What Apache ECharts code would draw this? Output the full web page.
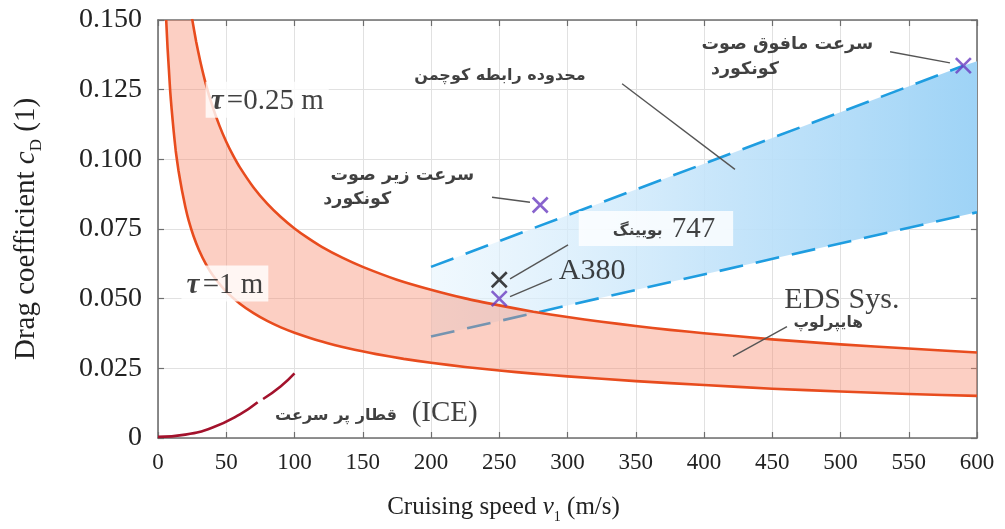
<!DOCTYPE html>
<html><head><meta charset="utf-8">
<script src="https://cdn.jsdelivr.net/npm/echarts@6/dist/echarts.min.js"></script>
<style>html,body{margin:0;padding:0;background:#fff}#c{width:1005px;height:529px}</style>
</head><body><div id="c"></div>
<script>
// ---------- data ----------
const xTicks = [0,50,100,150,200,250,300,350,400,450,500,550,600];
const yTickLabels = ['0','0.025','0.050','0.075','0.100','0.125','0.150'];

// Hyperloop (EDS) band boundaries
const hyperTau025 = [[25,0.1504],[28,0.1421],[31,0.1351],[35,0.1271],[40,0.1189],[45,0.1121],[50,0.1063],[55,0.1014],[60,0.0971],[70,0.0899],[80,0.0841],[90,0.0793],[100,0.0752],[110,0.0717],[120,0.0686],[135,0.0647],[150,0.0614],[175,0.0568],[200,0.0532],[225,0.0501],[250,0.0476],[275,0.0453],[300,0.0434],[325,0.0417],[350,0.0402],[375,0.0388],[400,0.0376],[450,0.0354],[500,0.0336],[550,0.0321],[600,0.0307]];
const hyperTau1 = [[6,0.150],[7,0.140],[8,0.132],[9,0.124],[10,0.118],[11.5,0.110],[13,0.103],[15,0.096],[17.5,0.089],[20,0.083],[22.5,0.078],[26,0.0725],[30,0.0675],[35,0.0625],[40,0.0585],[50,0.0525],[60,0.0482],[70,0.0448],[80,0.0420],[90,0.0397],[100,0.0378],[120,0.0346],[140,0.0321],[160,0.0301],[180,0.0284],[200,0.0270],[225,0.0255],[250,0.0242],[275,0.0231],[300,0.0221],[350,0.0204],[400,0.0190],[450,0.0177],[500,0.0167],[550,0.0158],[600,0.0151]];

// High-speed train (ICE)
const iceTrainA = [[0,0.0004],[20,0.0012],[40,0.0038],[60,0.0085],[73,0.0128]];
const iceTrainB = [[77,0.0140],[90,0.0186],[100,0.0232]];

// Kuchemann relation region (aircraft)
const kuchemannUpper = [[200,0.0614],[590,0.1336]];
const kuchemannLower = [[200,0.0364],[600,0.081]];
const kuchemannFillTopEnd = [600,0.1352];

// Aircraft points
const aircraftNames = ['Concorde subsonic','Concorde supersonic','Boeing 747','A380'];
const aircraftValues = [[280,0.0836],[590,0.1336],[250,0.0568],[250,0.0500]];

// Annotation texts and their anchors (data coordinates)
const annotTexts = ['τ =0.25 m','τ =1 m','محدوده رابطه کوچمن','سرعت زیر صوت','کونکورد','سرعت مافوق صوت','کونکورد','بویینگ|747','A380','EDS Sys.','هایپرلوپ','(ICE)','قطار پر سرعت'];
const annotAnchors = [[80,0.1214],[49,0.0554],[250.5,0.1300],[179,0.0943],[146,0.0857],[461,0.1411],[430,0.1321],[364.8,0.0752],[318,0.0600],[501,0.0493],[491,0.0411],[210,0.0089],[130.4,0.0079]];

// Leader lines (data coordinates)
const leaderLines = [
  [[340,0.1271],[422.7,0.0964]],
  [[244.7,0.0864],[272.5,0.0846]],
  [[536.3,0.1386],[580.2,0.1346]],
  [[257.9,0.0571],[300.4,0.0693]],
  [[257.9,0.0507],[288.6,0.0571]],
  [[421.2,0.0293],[460.8,0.0400]]
];

// ---------- styling / construction ----------
const serif = '"Liberation Serif","Times New Roman",serif';
const arab = '"DejaVu Sans",sans-serif';
const orange = '#e84c1e';
const blue = '#1f9de0';
const purple = '#6a3cc0';
const axisCol = '#6e6e6e';

const chart = echarts.init(document.getElementById('c'), null, {renderer:'canvas'});

const orangePoly = hyperTau1.concat([[600,0.0307]], hyperTau025.slice().reverse(), [[25,0.150]]);
const bluePoly = [kuchemannLower[0], kuchemannLower[1], kuchemannFillTopEnd, kuchemannUpper[1], kuchemannUpper[0]];

function polySeries(points, fill, z){
  return {type:'custom', z:z, silent:true, clip:true, data:[[0,0]],
    renderItem:(p,api)=>({type:'polygon', shape:{points:points.map(d=>api.coord(d))}, style:{fill:fill}})};
}

const tauRich = {
  i:{fontFamily:serif,fontStyle:'italic',fontWeight:'bold',fontSize:29,color:'#111'},
  n:{fontFamily:serif,fontSize:29,color:'#111'}
};
function boeingFormatter(t){
  const parts = t.split('|');
  return '{a|' + parts[0] + '}{b|' + parts[1] + '}';
}
const annotStyles = [
  {formatter:'{i|τ} {n|=0.25 m}', rich:tauRich, backgroundColor:'#fff', padding:[5,5,2,5]},
  {formatter:'{i|τ} {n|=1 m}', rich:tauRich, backgroundColor:'#fff', padding:[5,5,2,5]},
  {fontFamily:arab,fontWeight:'bold',fontSize:16},
  {fontFamily:arab,fontWeight:'bold',fontSize:17.5},
  {fontFamily:arab,fontWeight:'bold',fontSize:17.5},
  {fontFamily:arab,fontWeight:'bold',fontSize:17.5},
  {fontFamily:arab,fontWeight:'bold',fontSize:17.5},
  {formatter:boeingFormatter(annotTexts[7]), backgroundColor:'#fff', padding:[4,18,2,34],
    rich:{a:{fontFamily:arab,fontWeight:'bold',fontSize:15.5,color:'#111',padding:[4,9,0,0]},
          b:{fontFamily:serif,fontSize:29,color:'#111'}}},
  {fontFamily:serif,fontSize:30},
  {fontFamily:serif,fontSize:30},
  {fontFamily:arab,fontWeight:'bold',fontSize:15.5},
  {fontFamily:serif,fontSize:29},
  {fontFamily:arab,fontWeight:'bold',fontSize:16}
];
const annotZ = [6,6,8,8,8,8,8,8,8,8,8,8,8];

const annotSeries = annotTexts.map((t,i)=>({
  type:'scatter', z:annotZ[i], silent:true, symbolSize:0,
  data:[{value:annotAnchors[i]}],
  label:Object.assign({show:true, position:'inside', color:'#111', formatter:t}, annotStyles[i])
}));

const markerPath = 'path://M0,0L10,10M10,0L0,10';
const markerColors = [purple, purple, '#111', purple];

const axisCommon = {
  type:'value', axisLine:{show:true,onZero:false,lineStyle:{color:axisCol,width:1.6}},
  axisTick:{show:true,inside:true,length:6,lineStyle:{color:axisCol,width:1.2}}
};

const option = {
  animation:false,
  backgroundColor:'#fff',
  grid:{left:158,right:28,top:20,bottom:89},
  xAxis:[
    Object.assign({}, axisCommon, {min:0,max:600,interval:50,position:'bottom',
      axisLabel:{margin:13,color:'#222',fontFamily:serif,fontSize:23},
      splitLine:{show:true,lineStyle:{color:'#e1e1e1',width:1}},
      name:'{n|Cruising speed }{i|v}{s|1}{n| (m/s)}', nameLocation:'middle', nameGap:52,
      nameTextStyle:{padding:[0,128,0,0], rich:{
        n:{fontFamily:serif,fontSize:25,color:'#222'},
        i:{fontFamily:serif,fontStyle:'italic',fontSize:25,color:'#222'},
        s:{fontFamily:serif,fontSize:14,color:'#222',verticalAlign:'bottom',lineHeight:34}}}}),
    Object.assign({}, axisCommon, {min:0,max:600,interval:50,position:'top',
      axisLabel:{show:false}, splitLine:{show:false}})
  ],
  yAxis:[
    Object.assign({}, axisCommon, {min:0,max:0.15,interval:0.025,position:'left',
      axisLabel:{margin:16,color:'#222',fontFamily:serif,fontSize:28,
        formatter:v=>yTickLabels[Math.round(v/0.025)]},
      splitLine:{show:true,lineStyle:{color:'#e1e1e1',width:1}},
      name:'{n|Drag coefficient }{i|c}{s|D}{n| (1)}', nameLocation:'middle', nameGap:113,
      nameTextStyle:{rich:{
        n:{fontFamily:serif,fontSize:29,color:'#222'},
        i:{fontFamily:serif,fontStyle:'italic',fontSize:29,color:'#222'},
        s:{fontFamily:serif,fontSize:17,color:'#222',verticalAlign:'bottom',lineHeight:38}}}}),
    Object.assign({}, axisCommon, {min:0,max:0.15,interval:0.025,position:'right',
      axisLabel:{show:false}, splitLine:{show:false}})
  ],
  series:[
    polySeries(bluePoly, new echarts.graphic.LinearGradient(0,0,1,0,[
      {offset:0,color:'rgba(228,243,253,0.55)'},{offset:0.5,color:'rgba(196,228,250,0.9)'},{offset:1,color:'#9ed3f6'}]), 1),
    {type:'line', z:2, silent:true, data:kuchemannUpper, symbol:'none',
      lineStyle:{color:blue,width:2.6,type:[24,13]}},
    {type:'line', z:2, silent:true, data:kuchemannLower, symbol:'none',
      lineStyle:{color:blue,width:2.6,type:[24,13]}},
    polySeries(orangePoly, 'rgba(247,135,105,0.40)', 3),
    {type:'line', z:4, silent:true, data:hyperTau025, symbol:'none', clip:true, smooth:0.15,
      lineStyle:{color:orange,width:2.6,join:'round'}},
    {type:'line', z:4, silent:true, data:hyperTau1, symbol:'none', clip:true, smooth:0.15,
      lineStyle:{color:orange,width:2.6,join:'round'}},
    {type:'line', z:4, silent:true, data:iceTrainA, smooth:true, symbol:'none',
      lineStyle:{color:'#a3122c',width:2.6}},
    {type:'line', z:4, silent:true, data:iceTrainB, smooth:true, symbol:'none',
      lineStyle:{color:'#a3122c',width:2.6}},
    {type:'lines', coordinateSystem:'cartesian2d', z:5, silent:true,
      data:leaderLines.map(c=>({coords:c})), lineStyle:{color:'#555',width:1.4,opacity:1}},
    {type:'scatter', z:7, silent:true, symbol:markerPath, symbolSize:15,
      data:aircraftValues.map((v,i)=>({name:aircraftNames[i], value:v,
        itemStyle:{color:'rgba(0,0,0,0)',borderColor:markerColors[i],borderWidth:2.6}}))}
  ].concat(annotSeries)
};
chart.setOption(option);
</script></body></html>
